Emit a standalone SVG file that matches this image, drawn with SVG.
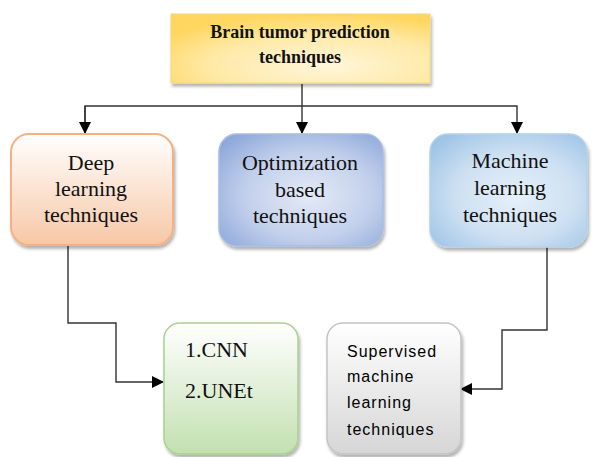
<svg xmlns="http://www.w3.org/2000/svg" width="592" height="457" viewBox="0 0 592 457">
  <style>
    .serif { font-family: "Liberation Serif", "Times New Roman", serif; fill: #111; }
    .lbl { font-size: 22px; text-anchor: middle; }
    .title { font-size: 18px; font-weight: bold; text-anchor: middle; }
    .list { font-size: 22px; }
    .sans { font-family: "Liberation Sans", Arial, sans-serif; font-size: 16px; letter-spacing: 1px; fill: #000; }
    .wire { fill: none; stroke: #333; stroke-width: 1.4; }
  </style>
  <defs>
    <marker id="arrow" viewBox="0 0 12 12" refX="11" refY="6" markerWidth="12" markerHeight="12" markerUnits="userSpaceOnUse" orient="auto">
      <path d="M0,0 L12,6 L0,12 Z" fill="#000"/>
    </marker>
    <filter id="shadow" x="-10%" y="-10%" width="125%" height="130%">
      <feDropShadow dx="1.5" dy="3" stdDeviation="1.5" flood-color="#000" flood-opacity="0.3"/>
    </filter>
    <radialGradient id="gYellow" cx="0.6" cy="0.75" r="0.75">
      <stop offset="0" stop-color="#FFF6DA"/>
      <stop offset="0.6" stop-color="#FFE9A6"/>
      <stop offset="1" stop-color="#FFD65E"/>
    </radialGradient>
    <linearGradient id="gOrange" x1="0" y1="0" x2="0" y2="1">
      <stop offset="0" stop-color="#FFFFFF"/>
      <stop offset="1" stop-color="#F7C7A6"/>
    </linearGradient>
    <radialGradient id="gBlue" cx="0.55" cy="0.55" r="0.7">
      <stop offset="0" stop-color="#E4EAF6"/>
      <stop offset="0.55" stop-color="#C3D0EC"/>
      <stop offset="1" stop-color="#8DA8DA"/>
    </radialGradient>
    <radialGradient id="gSky" cx="0.55" cy="0.55" r="0.7">
      <stop offset="0" stop-color="#E6F0F9"/>
      <stop offset="0.55" stop-color="#CDE0F2"/>
      <stop offset="1" stop-color="#9DC3E6"/>
    </radialGradient>
    <linearGradient id="gGreen" x1="0" y1="0" x2="0" y2="1">
      <stop offset="0" stop-color="#FFFFFF"/>
      <stop offset="1" stop-color="#C3E0B0"/>
    </linearGradient>
    <linearGradient id="gGray" x1="0" y1="0" x2="0" y2="1">
      <stop offset="0" stop-color="#FFFFFF"/>
      <stop offset="1" stop-color="#D6D6D6"/>
    </linearGradient>
  </defs>

  <!-- connectors -->
  <g id="connectors">
    <path class="wire" d="M302,84 L302,133" marker-end="url(#arrow)"/>
    <path class="wire" d="M85,133 L85,106 L517,106 L517,133" marker-end="url(#arrow)"/>
    <path class="wire" d="M85,106 L85,133" marker-end="url(#arrow)"/>
    <path class="wire" d="M68,246 L68,323 L116,323 L116,382 L163,382" marker-end="url(#arrow)"/>
    <path class="wire" d="M547,246 L547,330 L502,330 L502,389 L461,389" marker-end="url(#arrow)"/>
  </g>

  <!-- root -->
  <g id="root">
    <rect x="171" y="14" width="259" height="69" fill="url(#gYellow)" stroke="#F5D77A" stroke-width="1" filter="url(#shadow)"/>
    <text class="serif title" x="300" y="38">Brain tumor prediction</text>
    <text class="serif title" x="300" y="63">techniques</text>
  </g>

  <!-- categories -->
  <g id="deep-learning">
    <rect x="11" y="134" width="162" height="111" rx="18" fill="url(#gOrange)" stroke="#F4B183" stroke-width="2" filter="url(#shadow)"/>
    <text class="serif lbl" x="91" y="170">Deep</text>
    <text class="serif lbl" x="91" y="196">learning</text>
    <text class="serif lbl" x="91" y="222">techniques</text>
  </g>

  <g id="optimization">
    <rect x="219" y="134" width="164" height="112" rx="18" fill="url(#gBlue)" stroke="#A9BCE3" stroke-width="1.5" filter="url(#shadow)"/>
    <text class="serif lbl" x="300" y="170">Optimization</text>
    <text class="serif lbl" x="300" y="197">based</text>
    <text class="serif lbl" x="300" y="223">techniques</text>
  </g>

  <g id="machine-learning">
    <rect x="430" y="134" width="157" height="113" rx="18" fill="url(#gSky)" stroke="#B4D1EC" stroke-width="1.5" filter="url(#shadow)"/>
    <text class="serif lbl" x="510" y="168">Machine</text>
    <text class="serif lbl" x="510" y="195">learning</text>
    <text class="serif lbl" x="510" y="222">techniques</text>
  </g>

  <!-- methods -->
  <g id="deep-methods">
    <rect x="164" y="323" width="134" height="131" rx="16" fill="url(#gGreen)" stroke="#A9D18E" stroke-width="1.5" filter="url(#shadow)"/>
    <text class="serif list" x="185" y="357">1.CNN</text>
    <text class="serif list" x="185" y="398">2.UNEt</text>
  </g>

  <g id="ml-methods">
    <rect x="327" y="323" width="134" height="131" rx="16" fill="url(#gGray)" stroke="#C4C4C4" stroke-width="1.5" filter="url(#shadow)"/>
    <text class="sans" x="347" y="357">Supervised</text>
    <text class="sans" x="347" y="382">machine</text>
    <text class="sans" x="347" y="408">learning</text>
    <text class="sans" x="347" y="435">techniques</text>
  </g>
</svg>
